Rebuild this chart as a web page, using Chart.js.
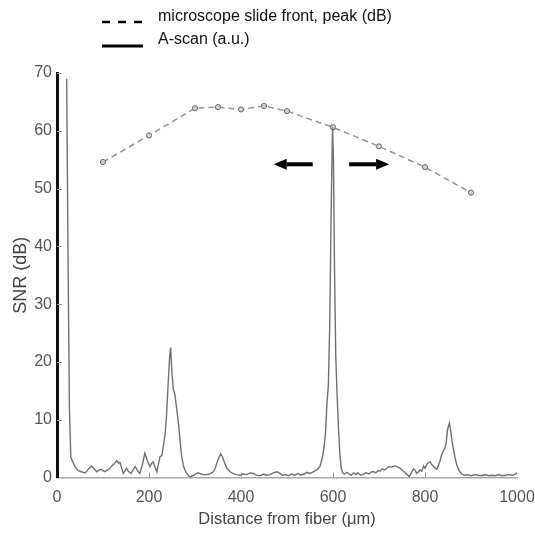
<!DOCTYPE html>
<html>
<head>
<meta charset="utf-8">
<script src="https://cdn.jsdelivr.net/npm/chart.js@4/dist/chart.umd.min.js"></script>
<style>
html,body{margin:0;padding:0;background:#fff;}
#wrap{position:relative;width:535px;height:533px;}
</style>
</head>
<body>
<div id="wrap"><canvas id="c" width="535" height="533"></canvas></div>
<script>
// ---- data ----
const peakX = [100, 200, 300, 350, 400, 450, 500, 600, 700, 800, 900];
const peakY = [54.6, 59.2, 63.9, 64.1, 63.7, 64.3, 63.4, 60.6, 57.3, 53.7, 49.3];

const ascanX = [21,24,27,30,35,39,46,53,61,68,75,80,86,92,97,103,108,114,119,125,130,134,137,141,144,148,151,156,161,165,170,175,180,185,191,196,202,206,209,213,217,221,224,228,231,235,238,242,245,247,250,253,256,260,264,268,271,275,278,283,289,295,301,307,313,319,325,331,336,340,344,347,351,356,360,365,370,376,382,390,398,405,412,420,427,434,441,449,456,463,470,478,485,490,497,503,510,517,524,530,537,543,549,555,560,566,572,577,581,584,587,590,593,596,599,601,603,606,609,612,615,618,621,625,630,635,640,645,650,654,660,666,672,678,684,688,693,698,702,707,712,717,722,727,731,736,741,746,751,756,761,766,771,775,778,782,786,789,793,797,800,804,808,811,815,820,825,829,833,836,840,843,846,849,853,856,859,862,866,869,874,880,886,892,900,908,915,923,930,938,945,952,960,967,975,982,990,996,1000];
const ascanY = [69,38,12,3.5,2.6,1.9,1.2,1.0,0.8,1.4,2.0,1.6,1.0,1.3,1.4,1.0,1.2,1.5,2.0,2.4,2.9,2.5,2.6,1.5,0.7,1.2,1.6,1.0,0.7,1.3,1.9,1.2,0.7,2.0,4.2,3.0,1.9,2.5,2.7,1.8,1.0,2.5,3.6,3.8,5.3,7.5,10.5,16.8,21,22.5,18,15.2,14.5,12,9.4,6,3.6,2.0,1.3,0.6,0.1,0.3,0.6,0.8,0.6,0.5,0.5,0.6,0.8,1.0,1.6,2.4,3.3,4.1,3.5,2.4,1.5,1.0,0.7,0.5,0.4,0.6,0.5,0.8,0.7,0.4,0.3,0.6,0.4,0.5,0.8,1.0,0.7,0.4,0.5,0.3,0.6,0.4,0.7,0.4,0.6,0.9,0.7,0.9,1.1,1.4,2.0,3.5,5.5,8,13,16,27,46,60.6,55,38,21,14,8.5,4,1.6,0.8,0.6,0.9,0.6,0.4,0.8,0.5,0.8,0.4,0.6,0.8,0.6,1.0,1.0,0.8,1.2,1.1,1.5,1.3,1.6,1.9,1.8,1.9,2.0,1.8,1.6,1.2,0.9,0.5,0.2,0.9,1.5,1.3,0.7,1.0,1.3,1.1,2.0,1.6,2.3,2.6,2.7,2.2,1.8,1.4,2.0,3.0,3.9,4.6,5.0,6.0,8.3,9.4,8.0,6.2,4.8,3.2,2.2,1.2,0.6,0.4,0.5,0.3,0.5,0.4,0.3,0.5,0.3,0.4,0.3,0.5,0.3,0.4,0.5,0.4,0.6,0.8];

const xTicks = [0, 200, 400, 600, 800, 1000];
const yTicks = [0, 10, 20, 30, 40, 50, 60, 70];
const legendLabels = ["microscope slide front, peak (dB)", "A-scan (a.u.)"];
const xTitle = "Distance from fiber (\u03bcm)";
const yTitle = "SNR (dB)";
// arrows: [tailX, headX, y] in data units
const arrowLeft = [556, 471, 54.2];
const arrowRight = [635, 722, 54.2];

const FONT = "'Liberation Sans', Arial, sans-serif";

const extras = {
  id: 'extras',
  afterDatasetsDraw(chart) {
    const ctx = chart.ctx;
    const xs = chart.scales.x, ys = chart.scales.y;
    ctx.save();
    // inner tick marks
    ctx.strokeStyle = '#999';
    ctx.lineWidth = 1;
    yTicks.forEach(v => {
      if (v === 0) return;
      const py = Math.round(ys.getPixelForValue(v)) + 0.5;
      ctx.beginPath(); ctx.moveTo(xs.left, py); ctx.lineTo(xs.left + 5, py); ctx.stroke();
    });
    xTicks.forEach(v => {
      if (v === 0 || v === 1000) return;
      const px = Math.round(xs.getPixelForValue(v)) + 0.5;
      ctx.beginPath(); ctx.moveTo(px, ys.bottom); ctx.lineTo(px, ys.bottom - 5); ctx.stroke();
    });
    // arrows
    ctx.fillStyle = '#000'; ctx.strokeStyle = '#000';
    [arrowLeft, arrowRight].forEach(a => {
      const x0 = xs.getPixelForValue(a[0]), x1 = xs.getPixelForValue(a[1]);
      const y = ys.getPixelForValue(a[2]);
      const dir = Math.sign(x1 - x0);
      const hl = 13, hw = 5.5;
      ctx.lineWidth = 4;
      ctx.beginPath(); ctx.moveTo(x0, y); ctx.lineTo(x1 - dir * hl, y); ctx.stroke();
      ctx.beginPath();
      ctx.moveTo(x1, y);
      ctx.lineTo(x1 - dir * hl, y - hw);
      ctx.lineTo(x1 - dir * hl, y + hw);
      ctx.closePath(); ctx.fill();
    });
    // legend
    ctx.lineWidth = 2.5;
    ctx.strokeStyle = '#000';
    ctx.setLineDash([8, 8]);
    ctx.beginPath(); ctx.moveTo(102, 22); ctx.lineTo(143, 22); ctx.stroke();
    ctx.setLineDash([]);
    ctx.lineWidth = 3;
    ctx.beginPath(); ctx.moveTo(102, 46); ctx.lineTo(143, 46); ctx.stroke();
    ctx.fillStyle = '#111';
    ctx.font = '16px ' + FONT;
    ctx.textBaseline = 'middle';
    ctx.textAlign = 'left';
    ctx.fillText(legendLabels[0], 158, 17);
    ctx.fillText(legendLabels[1], 158, 40);
    ctx.restore();
  }
};

const ctx = document.getElementById('c').getContext('2d');
new Chart(ctx, {
  type: 'line',
  data: {
    datasets: [
      {
        label: legendLabels[0],
        data: peakX.map((x, i) => ({x, y: peakY[i]})),
        borderColor: '#939393',
        borderWidth: 1.5,
        borderDash: [6, 4],
        pointRadius: 2.6,
        pointBorderWidth: 1,
        pointBorderColor: '#6a6a6a',
        pointBackgroundColor: '#d0d0d0',
        tension: 0,
        order: 2
      },
      {
        label: legendLabels[1],
        data: ascanX.map((x, i) => ({x, y: ascanY[i]})),
        borderColor: '#707070',
        borderWidth: 1.4,
        pointRadius: 0,
        tension: 0,
        order: 1
      }
    ]
  },
  options: {
    responsive: false,
    animation: false,
    layout: { padding: { top: 73, right: 0, left: 0, bottom: 0 } },
    plugins: { legend: { display: false }, tooltip: { enabled: false } },
    scales: {
      x: {
        type: 'linear', min: 0, max: 1000,
        afterBuildTicks: s => { s.ticks = xTicks.map(v => ({value: v})); },
        afterFit: s => { s.height = 55.5; s.paddingRight = 18; s.paddingLeft = 0; },
        grid: { display: false, drawTicks: false },
        border: { display: true, color: '#aaa', width: 1.5 },
        ticks: { color: '#555', font: { family: FONT, size: 16 }, padding: 10, maxRotation: 0,
                 callback: v => String(v) },
        title: { display: true, text: xTitle, color: '#444', font: { family: FONT, size: 16.5 }, padding: { top: 4 } }
      },
      y: {
        type: 'linear', min: 0, max: 70,
        afterBuildTicks: s => { s.ticks = yTicks.map(v => ({value: v})); },
        afterFit: s => { s.width = 57; },
        grid: { display: false, drawTicks: false },
        border: { display: true, color: '#111', width: 3 },
        ticks: { color: '#555', font: { family: FONT, size: 16 }, padding: 5, callback: v => String(v) },
        title: { display: true, text: yTitle, color: '#444', font: { family: FONT, size: 18 }, padding: { top: 10, bottom: 0 } }
      }
    }
  },
  plugins: [extras]
});
</script>
</body>
</html>
